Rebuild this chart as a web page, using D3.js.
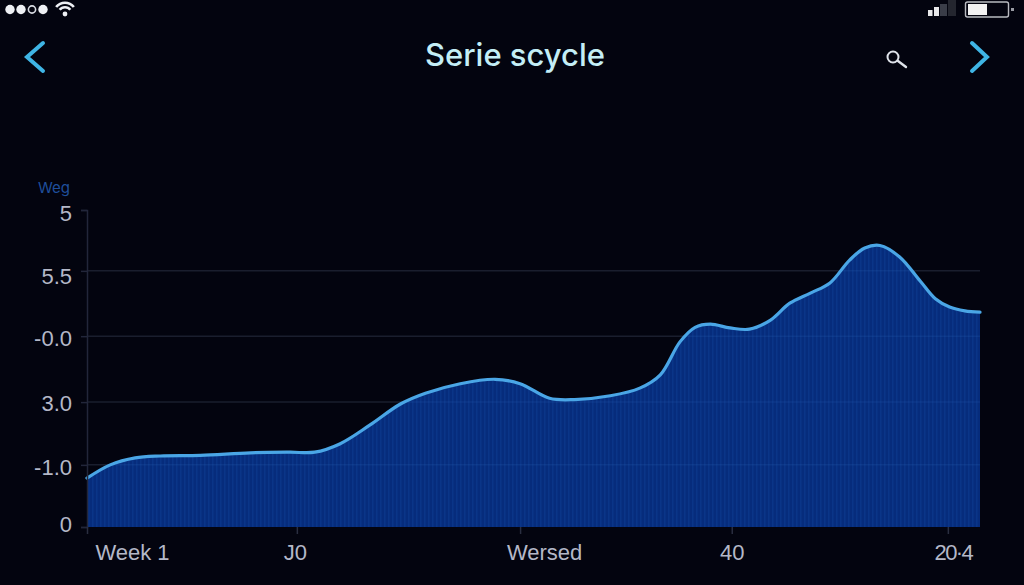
<!DOCTYPE html>
<html>
<head>
<meta charset="utf-8">
<script src="https://cdn.jsdelivr.net/npm/d3@7"></script>
<style>
  html, body { margin: 0; padding: 0; background: #03040f; overflow: hidden; }
  text { font-family: Inter, "Liberation Sans", sans-serif; }
</style>
</head>
<body>
<div id="chart"></div>
<script>
const chart_width = 1024;
const chart_height = 585;
const margin_top = 210;
const margin_right = 44;
const margin_bottom = 58;
const margin_left = 87;

// position along the axis, 0-100
const positions = [0, 2.6, 5.4, 8.2, 12.7, 18.3, 22.7, 25.5, 28.3, 31.7, 35.1, 37.9, 41.8, 45.7, 48.5, 51.8, 54.6, 58.6, 61.9, 64.2, 66.4, 68.1, 69.8, 72, 74.2, 76.5, 78.7, 81, 83.2, 85.4, 87.1, 88.8, 91, 93.3, 95, 96.6, 98.3, 100];
const values = [0.77, 0.98, 1.09, 1.12, 1.13, 1.17, 1.18, 1.18, 1.31, 1.61, 1.94, 2.11, 2.26, 2.33, 2.26, 2.03, 2.01, 2.07, 2.19, 2.40, 2.92, 3.15, 3.20, 3.14, 3.12, 3.26, 3.53, 3.69, 3.85, 4.21, 4.40, 4.44, 4.26, 3.88, 3.60, 3.47, 3.41, 3.39];

const y_ticks = [0, 0.98, 1.97, 3.01, 4.04, 5];
const y_tick_labels = ["0", "-1.0", "3.0", "-0.0", "5.5", "5"];
const y_label_shift = [-3, 3, 1, 2, 6, 3];
const grid_ticks = [0.98, 1.97, 3.01, 4.04];
const x_ticks = [0, 23.5, 48.5, 72.2, 96.4];
const x_tick_labels = ["Week 1", "J0", "Wersed", "40", "20\u00b74"];
const x_label_shift = [45, -2, 24, 0, 5];
const title_text = "Serie scycle";
const y_title = "Weg";

const svg = d3.select("#chart")
    .append("svg")
    .attr("width", chart_width)
    .attr("height", chart_height)
    .style("display", "block");

svg.append("rect")
    .attr("width", chart_width)
    .attr("height", chart_height)
    .attr("fill", "#03040f");

const defs = svg.append("defs");

const stripes = defs.append("pattern")
    .attr("id", "stripes")
    .attr("patternUnits", "userSpaceOnUse")
    .attr("width", 4)
    .attr("height", 4);
stripes.append("rect").attr("width", 4).attr("height", 4).attr("fill", "#062c7c");
stripes.append("rect").attr("width", 1.5).attr("height", 4).attr("fill", "#0a3588");

const x = d3.scaleLinear()
    .domain([0, 100])
    .range([margin_left, chart_width - margin_right]);

const y = d3.scaleLinear()
    .domain([0, 5])
    .range([chart_height - margin_bottom, margin_top]);

const rows = positions.map((p, i) => ({ pos: p, value: values[i] }));

// grid under the area
svg.append("g")
    .selectAll("line")
    .data(grid_ticks)
    .join("line")
    .attr("x1", x(0))
    .attr("x2", x(100))
    .attr("y1", d => y(d))
    .attr("y2", d => y(d))
    .attr("stroke", "#1a1e2e")
    .attr("stroke-width", 1.5);

const area = d3.area()
    .x(d => x(d.pos))
    .y0(y(0))
    .y1(d => y(d.value))
    .curve(d3.curveCatmullRom.alpha(0.5));

const line = d3.line()
    .x(d => x(d.pos))
    .y(d => y(d.value))
    .curve(d3.curveCatmullRom.alpha(0.5));

svg.append("path")
    .datum(rows)
    .attr("d", area)
    .attr("fill", "url(#stripes)");

// faint grid showing through the fill
defs.append("clipPath").attr("id", "area-clip").append("path").datum(rows).attr("d", area);
svg.append("g")
    .attr("clip-path", "url(#area-clip)")
    .selectAll("line")
    .data(grid_ticks)
    .join("line")
    .attr("x1", x(0))
    .attr("x2", x(100))
    .attr("y1", d => y(d))
    .attr("y2", d => y(d))
    .attr("stroke", "#2a5fb0")
    .attr("stroke-opacity", 0.22)
    .attr("stroke-width", 1.5);

svg.append("path")
    .datum(rows)
    .attr("d", line)
    .attr("fill", "none")
    .attr("stroke", "#4aa6e6")
    .attr("stroke-width", 3.2)
    .attr("stroke-linecap", "round");

// axes
const axis_left = svg.append("g")
    .attr("transform", `translate(${margin_left},0)`)
    .call(d3.axisLeft(y)
        .tickValues(y_ticks)
        .tickFormat((d, i) => y_tick_labels[i])
        .tickSize(6)
        .tickPadding(9));

const axis_bottom = svg.append("g")
    .attr("transform", `translate(0,${chart_height - margin_bottom})`)
    .call(d3.axisBottom(x)
        .tickValues(x_ticks)
        .tickFormat((d, i) => x_tick_labels[i])
        .tickSize(7)
        .tickPadding(9));

axis_left.select(".domain").attr("stroke", "#22263a").attr("stroke-width", 1.5);
axis_left.selectAll(".tick line").attr("stroke", "#22263a").attr("stroke-width", 1.5);
axis_left.selectAll(".tick text")
    .attr("fill", "#b4b8c8")
    .attr("transform", (d, i) => `translate(0,${y_label_shift[i]})`)
    .style("font-size", "22px")
    .style("font-family", "'Liberation Sans', sans-serif");

axis_bottom.select(".domain").remove();
axis_bottom.selectAll(".tick line").attr("stroke", "#2a2e40").attr("stroke-width", 1.5);
axis_bottom.selectAll(".tick text")
    .attr("fill", "#b4b8c8")
    .attr("dx", (d, i) => x_label_shift[i])
    .attr("dy", "0.76em")
    .style("letter-spacing", (d, i) => i === 4 ? "-1.6px" : null)
    .style("font-size", "22px")
    .style("font-family", "'Liberation Sans', sans-serif");

svg.append("text")
    .attr("x", 38)
    .attr("y", 193)
    .attr("fill", "#1f4f9c")
    .style("font-size", "15px")
    .text(y_title);

svg.append("text")
    .attr("x", 515)
    .attr("y", 66)
    .attr("text-anchor", "middle")
    .attr("fill", "#c4eef6")
    .style("font-size", "31px")
    .style("font-weight", "500")
    .text(title_text);

// nav chevrons
const chevron = d3.line();
svg.append("path")
    .attr("d", chevron([[43, 43], [27, 57], [43, 71]]))
    .attr("fill", "none")
    .attr("stroke", "#3fb5e5")
    .attr("stroke-width", 4)
    .attr("stroke-linecap", "round");
svg.append("path")
    .attr("d", chevron([[972, 43], [987, 57], [972, 71]]))
    .attr("fill", "none")
    .attr("stroke", "#3fb5e5")
    .attr("stroke-width", 4)
    .attr("stroke-linecap", "round");

// search icon
svg.append("circle")
    .attr("cx", 893).attr("cy", 57).attr("r", 5.5)
    .attr("fill", "none").attr("stroke", "#dfe3ea").attr("stroke-width", 2);
svg.append("line")
    .attr("x1", 898).attr("y1", 61).attr("x2", 906).attr("y2", 67)
    .attr("stroke", "#dfe3ea").attr("stroke-width", 2.4).attr("stroke-linecap", "round");

// status bar: carrier dots
svg.append("g")
    .selectAll("circle")
    .data([0, 1, 2, 3])
    .join("circle")
    .attr("cx", d => 10 + d * 11)
    .attr("cy", 9.5)
    .attr("r", d => d === 2 ? 3.6 : 4.7)
    .attr("fill", d => d === 2 ? "none" : "#eef0f4")
    .attr("stroke", d => d === 2 ? "#d8dbe2" : "none")
    .attr("stroke-width", 1.6);

// status bar: wifi
const wifi = svg.append("g").attr("transform", "translate(65,14)");
wifi.selectAll("path")
    .data([[10, 13], [5.5, 8]])
    .join("path")
    .attr("d", d => d3.arc()({ innerRadius: d[0], outerRadius: d[0] + 2.6, startAngle: -0.9, endAngle: 0.9 }))
    .attr("fill", "#eef0f4");
wifi.append("circle").attr("r", 2.4).attr("cy", 0).attr("fill", "#eef0f4");

// status bar: signal bars
svg.append("g")
    .selectAll("rect")
    .data([[928, 10, 4.5, 6, "#e8e8ea"], [934, 7, 5, 9, "#e8e8ea"], [940, 4, 7, 12, "#3a3d48"], [948, 0, 8, 16, "#24262f"]])
    .join("rect")
    .attr("x", d => d[0])
    .attr("y", d => d[1])
    .attr("width", d => d[2])
    .attr("height", d => d[3])
    .attr("fill", d => d[4]);

// status bar: battery
svg.append("rect")
    .attr("x", 965.5).attr("y", 2).attr("width", 43).attr("height", 15).attr("rx", 2)
    .attr("fill", "none").attr("stroke", "#b8bac0").attr("stroke-width", 1.4);
svg.append("rect")
    .attr("x", 968).attr("y", 4).attr("width", 19).attr("height", 11)
    .attr("fill", "#f2f2f2");
svg.append("rect")
    .attr("x", 1011).attr("y", 8).attr("width", 3).attr("height", 3)
    .attr("fill", "#9a9ca4");
</script>
</body>
</html>
